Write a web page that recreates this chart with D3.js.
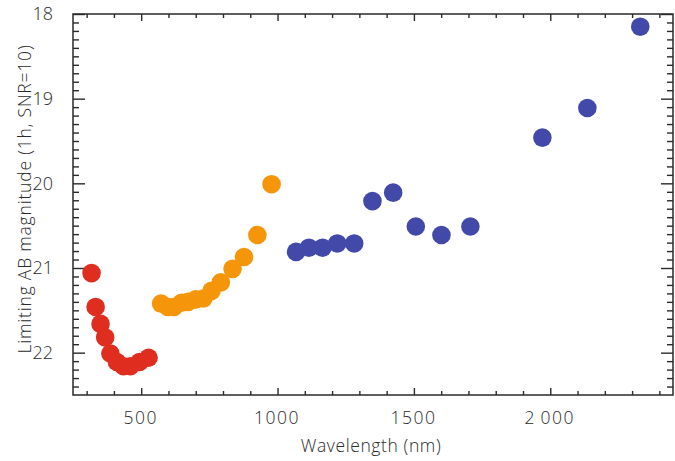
<!DOCTYPE html>
<html>
<head>
<meta charset="utf-8">
<script src="https://cdn.jsdelivr.net/npm/d3@7"></script>
<style>
  body { margin: 0; background: #fff; }
  text { font-family: "Open Sans", "Liberation Sans", sans-serif; font-weight: 300; }
</style>
</head>
<body>
<div id="chart"></div>
<script>
// wavelength (nm) and limiting magnitude, one pair of arrays per colour group
var redWave = [318, 333, 351, 368, 387, 411, 435, 460, 494, 527];
var redMag = [21.06, 21.46, 21.66, 21.82, 22.01, 22.11, 22.16, 22.16, 22.11, 22.06];
var orangeWave = [573, 598, 620, 648, 672, 700, 728, 758, 792, 835, 877, 926, 978];
var orangeMag = [21.42, 21.46, 21.46, 21.41, 21.40, 21.37, 21.36, 21.27, 21.17, 21.01, 20.87, 20.61, 20.01];
var blueWave = [1068, 1115, 1165, 1219, 1281, 1348, 1424, 1507, 1601, 1707, 1971, 2136, 2330];
var blueMag = [20.81, 20.76, 20.76, 20.71, 20.71, 20.21, 20.11, 20.51, 20.61, 20.51, 19.46, 19.11, 18.15];

var xTicks = [500, 1000, 1500, 2000];
var xTickLabels = ["500", "1000", "1500", "2\u2009000"];
var yTicks = [18, 19, 20, 21, 22];

var margin = { top: 14, right: 2, bottom: 66, left: 73 },
    width = 675 - margin.left - margin.right,
    height = 461 - margin.top - margin.bottom;

var svg = d3.select("#chart")
    .append("svg")
    .attr("width", 675)
    .attr("height", 461)
    .append("g")
    .attr("transform", "translate(" + margin.left + "," + margin.top + ")");

var x = d3.scaleLinear().domain([250, 2450]).range([0, width]);
var y = d3.scaleLinear().domain([18, 22.5]).range([0, height]);

var xMinor = d3.range(300, 2450, 100).filter(function (d) { return xTicks.indexOf(d) < 0; });
var yMinor = d3.range(181, 225, 1).map(function (d) { return d / 10; })
    .filter(function (d) { return yTicks.indexOf(d) < 0; });

var ink = "#2a2a2a";
var fontSize = "17.5px";

function styleAxis(g) {
    g.select(".domain").remove();
    g.selectAll("line").attr("stroke", ink).attr("stroke-width", 1.4);
    g.selectAll("text").attr("fill", ink).style("font-size", fontSize);
}

// bottom
svg.append("g").attr("transform", "translate(0," + height + ")")
    .call(d3.axisBottom(x).tickValues(xTicks).tickSize(-7).tickPadding(17)
        .tickFormat(function (d, i) { return xTickLabels[i]; }))
    .call(styleAxis)
    .selectAll("text").style("letter-spacing", "1.5px").attr("dx", "-1");
svg.append("g").attr("transform", "translate(0," + height + ")")
    .call(d3.axisBottom(x).tickValues(xMinor).tickSize(-4).tickFormat(""))
    .call(styleAxis);
// top
svg.append("g")
    .call(d3.axisTop(x).tickValues(xTicks).tickSize(-7).tickFormat(""))
    .call(styleAxis);
svg.append("g")
    .call(d3.axisTop(x).tickValues(xMinor).tickSize(-4).tickFormat(""))
    .call(styleAxis);
// left
svg.append("g")
    .call(d3.axisLeft(y).tickValues(yTicks).tickSize(-12).tickPadding(20).tickFormat(d3.format("d")))
    .call(styleAxis)
    .selectAll("text").style("font-size", "18px");
svg.append("g")
    .call(d3.axisLeft(y).tickValues(yMinor).tickSize(-6).tickFormat(""))
    .call(styleAxis);
// right
svg.append("g").attr("transform", "translate(" + width + ",0)")
    .call(d3.axisRight(y).tickValues(yTicks).tickSize(-12).tickFormat(""))
    .call(styleAxis);
svg.append("g").attr("transform", "translate(" + width + ",0)")
    .call(d3.axisRight(y).tickValues(yMinor).tickSize(-6).tickFormat(""))
    .call(styleAxis);

// frame
svg.append("rect")
    .attr("width", width)
    .attr("height", height)
    .attr("fill", "none")
    .attr("stroke", ink)
    .attr("stroke-width", 1.5);

var groups = [
    { wave: redWave, mag: redMag, color: "#df2e1f" },
    { wave: orangeWave, mag: orangeMag, color: "#f5960a" },
    { wave: blueWave, mag: blueMag, color: "#4349a9" }
];

groups.forEach(function (grp) {
    svg.append("g")
        .selectAll("circle")
        .data(grp.wave)
        .enter().append("circle")
        .attr("cx", function (d) { return x(d); })
        .attr("cy", function (d, i) { return y(grp.mag[i]); })
        .attr("r", 9.3)
        .attr("fill", grp.color);
});

svg.append("text")
    .attr("x", 371 - margin.left)
    .attr("y", 452 - margin.top)
    .attr("text-anchor", "middle")
    .attr("fill", ink)
    .style("font-size", fontSize)
    .style("letter-spacing", "0.6px")
    .text("Wavelength (nm)");

svg.append("text")
    .attr("transform", "translate(" + (31 - margin.left) + "," + (199 - margin.top) + ")rotate(-90)")
    .attr("text-anchor", "middle")
    .attr("fill", ink)
    .style("font-size", fontSize)
    .style("letter-spacing", "0.8px")
    .text("Limiting AB magnitude (1h, SNR=10)");
</script>
</body>
</html>
